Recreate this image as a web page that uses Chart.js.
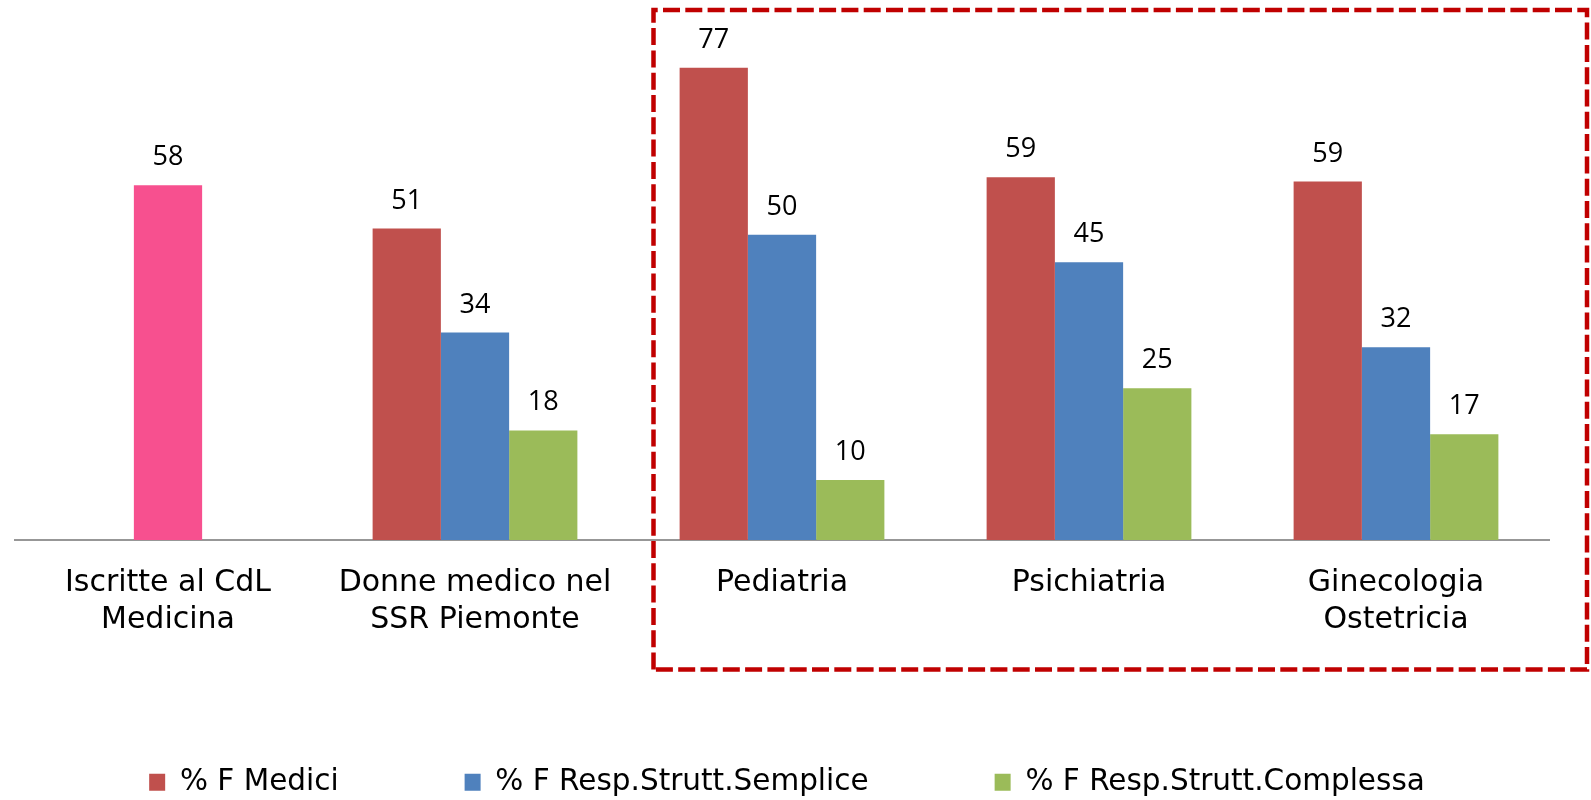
<!DOCTYPE html>
<html>
<head>
<meta charset="utf-8">
<script src="https://cdn.jsdelivr.net/npm/chart.js@4.4.1/dist/chart.umd.min.js"></script>
<style>
  html, body { margin: 0; padding: 0; background: #ffffff; }
  #wrap { width: 1591px; height: 800px; position: relative; }
</style>
</head>
<body>
<div id="wrap"><canvas id="c" width="1591" height="800"></canvas></div>
<script>
// ---- Data ----
const categories = [
  ["Iscritte al CdL", "Medicina"],
  ["Donne medico nel", "SSR Piemonte"],
  "Pediatria",
  "Psichiatria",
  ["Ginecologia", "Ostetricia"]
];
const seriesNames = ["% F Medici", "% F Resp.Strutt.Semplice", "% F Resp.Strutt.Complessa"];
const iscritteLabel = "Iscritte al CdL Medicina";
const iscritteCdL    = [58,   null, null, null, null];
const fMedici        = [null, 50.9, 77.2, 59.3, 58.6];
const fRespSemplice  = [null, 33.9, 49.9, 45.4, 31.5];
const fRespComplessa = [null, 17.9,  9.8, 24.8, 17.3];
const yMax = 85;

// ---- Styles ----
const colMedici = "#C0504D";
const colSemplice = "#4F81BD";
const colComplessa = "#9BBB59";
const colIscritte = "#F7508F";

const valueLabels = {
  id: "valueLabels",
  afterDatasetsDraw(chart) {
    const ctx = chart.ctx;
    ctx.save();
    ctx.font = "27px 'Open Sans'";
    ctx.fillStyle = "#000000";
    ctx.textAlign = "center";
    ctx.textBaseline = "alphabetic";
    chart.data.datasets.forEach((ds, di) => {
      const meta = chart.getDatasetMeta(di);
      if (meta.hidden) return;
      meta.data.forEach((el, i) => {
        const v = ds.data[i];
        if (v === null || v === undefined) return;
        ctx.fillText(String(Math.round(v)), el.x, el.y - 20);
      });
    });
    ctx.restore();
  }
};

const highlightBox = {
  id: "highlightBox",
  afterDraw(chart) {
    const ctx = chart.ctx;
    const xs = chart.scales.x;
    const left = xs.getPixelForValue(2) - 128.5;
    const right = chart.width - 4;
    const top = 10;
    const bottom = 669.5;
    ctx.save();
    ctx.strokeStyle = "#C00000";
    ctx.lineWidth = 4.5;
    ctx.setLineDash([17, 5.3]);
    ctx.lineJoin = "miter";
    ctx.beginPath();
    ctx.moveTo(left, bottom);
    ctx.lineTo(left, top);
    ctx.lineTo(right, top);
    ctx.lineTo(right, bottom);
    ctx.closePath();
    ctx.stroke();
    ctx.restore();
  }
};

// shift the legend row slightly right so it is centred like the original
const legendNudge = {
  id: "legendNudge",
  afterLayout(chart) {
    if (chart.legend) { chart.legend.left += 5; chart.legend.right += 5; }
  }
};

new Chart(document.getElementById("c"), {
  type: "bar",
  data: {
    labels: categories,
    datasets: [
      { label: seriesNames[0], data: fMedici, backgroundColor: colMedici },
      { label: seriesNames[1], data: fRespSemplice, backgroundColor: colSemplice },
      { label: seriesNames[2], data: fRespComplessa, backgroundColor: colComplessa },
      { label: iscritteLabel, data: iscritteCdL, backgroundColor: colIscritte,
        grouped: false, barPercentage: 1 / 3 }
    ]
  },
  options: {
    responsive: false,
    animation: false,
    devicePixelRatio: 1,
    layout: { padding: { top: 20, left: 14.5, right: 41.5, bottom: -7 } },
    datasets: {
      bar: { categoryPercentage: 0.667, barPercentage: 1, borderWidth: 0 }
    },
    scales: {
      x: {
        grid: { display: false, drawTicks: false },
        border: { display: true, color: "#979797", width: 2 },
        ticks: {
          color: "#000000",
          font: { family: "'DejaVu Sans'", size: 30, lineHeight: 1.26 },
          padding: 24,
          maxRotation: 0,
          autoSkip: false
        },
        afterFit(scale) { scale.height = 101.5; }
      },
      y: {
        display: false,
        min: 0,
        max: yMax
      }
    },
    plugins: {
      legend: {
        position: "bottom",
        labels: {
          color: "#000000",
          font: { family: "'DejaVu Sans'", size: 29.5 },
          boxWidth: 16,
          boxHeight: 17,
          padding: 126,
          filter: (item) => item.datasetIndex !== 3
        }
      },
      tooltip: { enabled: false }
    }
  },
  plugins: [valueLabels, highlightBox, legendNudge]
});
</script>
</body>
</html>
